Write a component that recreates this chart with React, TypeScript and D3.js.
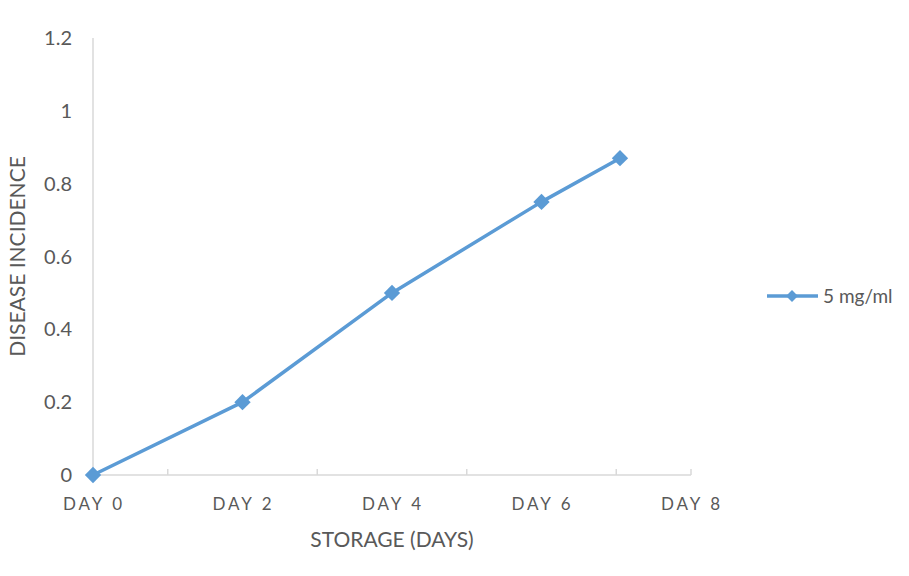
import React from "react";
import * as d3 from "d3";

const days = [0, 2, 4, 6, 7.05];
const incidence = [0, 0.2, 0.5, 0.75, 0.87];
const xTickValues = [0, 2, 4, 6, 8];
const xTickLabels = ["DAY 0", "DAY 2", "DAY 4", "DAY 6", "DAY 8"];
const xMinorTicks = [1, 3, 5, 7, 8];
const yTickValues = [0, 0.2, 0.4, 0.6, 0.8, 1, 1.2];
const seriesName = "5 mg/ml";

const W = 909;
const H = 576;
const color = "#5B9BD5";
const axisColor = "#D9D9D9";
const textColor = "#595959";
const font = "Lato, 'Open Sans', sans-serif";

export default function App() {
  const x = d3.scaleLinear().domain([0, 8]).range([93, 691]);
  const y = d3.scaleLinear().domain([0, 1.2]).range([475, 38]);
  const pts = days.map((d, i) => [x(d), y(incidence[i])] as [number, number]);
  const line = d3.line()(pts) || "";
  const diamond = d3.symbol().type(d3.symbolDiamond2).size(170)() || "";

  return (
    <svg
      width={W}
      height={H}
      style={{ position: "absolute", left: 0, top: 0, background: "#fff" }}
    >
      <rect width={W} height={H} fill="#fff" />
      {/* axes */}
      <line x1={x(0)} x2={x(0)} y1={y(1.2)} y2={y(0)} stroke={axisColor} strokeWidth={1.5} />
      <line x1={x(0)} x2={x(8)} y1={y(0)} y2={y(0)} stroke={axisColor} strokeWidth={1.5} />
      {xMinorTicks.map((t) => (
        <line key={t} x1={x(t)} x2={x(t)} y1={y(0)} y2={y(0) - 6} stroke={axisColor} strokeWidth={1.5} />
      ))}
      {yTickValues.map((t) => (
        <text
          key={t}
          x={72}
          y={y(t)}
          dy="0.35em"
          textAnchor="end"
          fontFamily={font}
          fontSize={20}
          fill={textColor}
        >
          {d3.format("~g")(t)}
        </text>
      ))}
      {xTickValues.map((t, i) => (
        <text
          key={t}
          x={x(t) + 1}
          y={510}
          textAnchor="middle"
          fontFamily={font}
          fontSize={17}
          letterSpacing={3}
          fill={textColor}
        >
          {xTickLabels[i]}
        </text>
      ))}
      <text
        x={392}
        y={547}
        textAnchor="middle"
        fontFamily={font}
        fontSize={21}
        fill={textColor}
      >
        STORAGE (DAYS)
      </text>
      <text
        transform={`translate(25,${y(0.6)}) rotate(-90)`}
        textAnchor="middle"
        fontFamily={font}
        fontSize={21}
        fill={textColor}
      >
        DISEASE INCIDENCE
      </text>
      {/* series */}
      <path d={line} fill="none" stroke={color} strokeWidth={3.5} strokeLinejoin="round" />
      {pts.map(([px, py], i) => (
        <path key={i} d={diamond} transform={`translate(${px},${py})`} fill={color} />
      ))}
      {/* legend */}
      <line x1={767} x2={818} y1={296} y2={296} stroke={color} strokeWidth={3.5} />
      <path d={d3.symbol().type(d3.symbolDiamond2).size(90)() || ""} transform="translate(792,296)" fill={color} />
      <text x={823} y={296} dy="0.35em" fontFamily={font} fontSize={19} fill={textColor}>
        {seriesName}
      </text>
    </svg>
  );
}
